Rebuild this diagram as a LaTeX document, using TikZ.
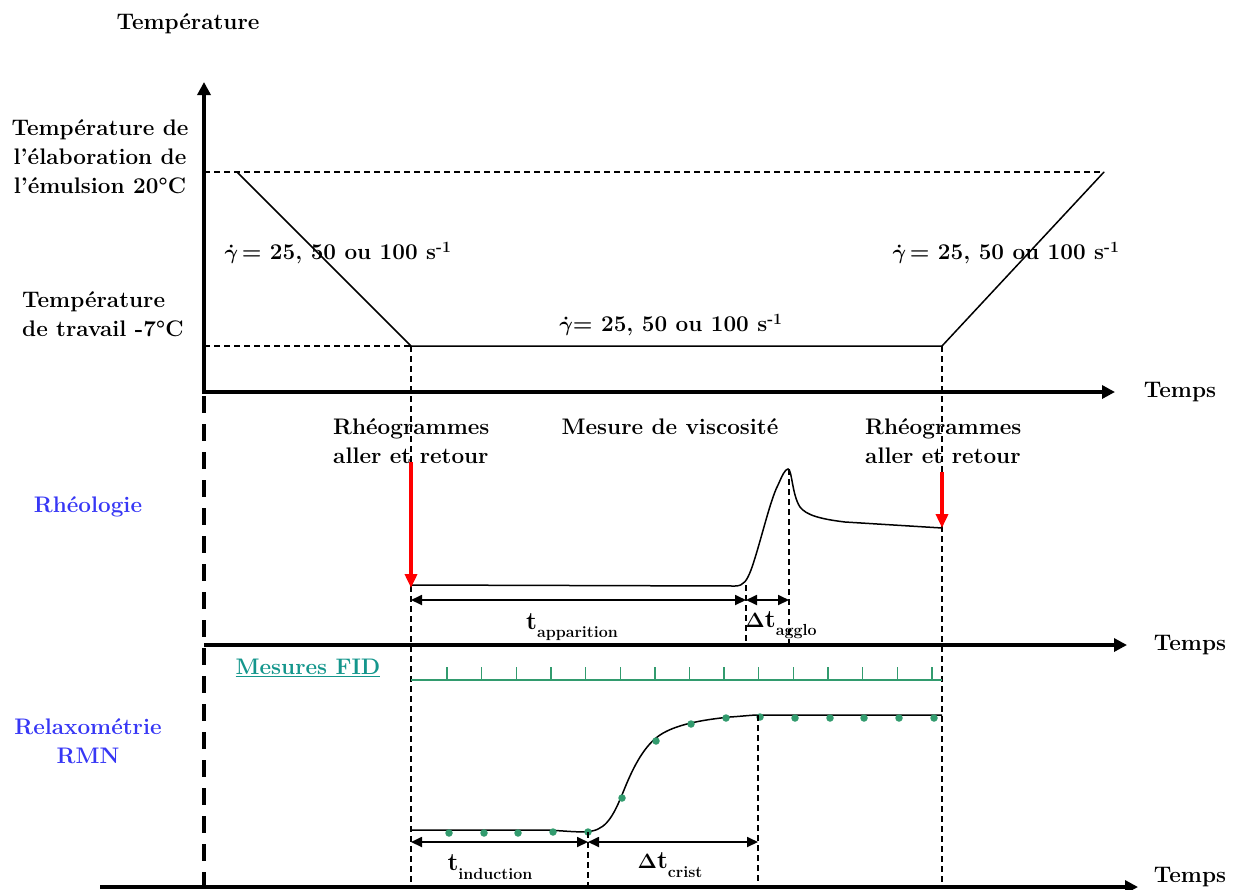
\documentclass[tikz,border=0pt]{standalone}
\usepackage{bm}
\usetikzlibrary{arrows.meta}
\definecolor{rblue}{RGB}{55,55,245}
\definecolor{fidteal}{RGB}{20,150,140}
\definecolor{fidgreen}{RGB}{50,155,110}
\newcommand{\mysub}[1]{\raisebox{-0.38em}{\fontsize{16}{16}\selectfont #1}}
\newcommand{\bigt}{{\fontsize{25}{25}\selectfont t}}
\newcommand{\gd}{$\bm{\dot{\gamma}}$}
\begin{document}
\begin{tikzpicture}[x=1pt,y=-1pt,
  every node/.style={font=\fontsize{22.5}{29}\selectfont\bfseries, inner sep=0pt},
  axisarrow/.style={line width=4pt,-{Triangle[length=13pt,width=13pt]}},
  guide/.style={line width=1.1pt, dash pattern=on 6pt off 4pt},
  curveline/.style={line width=1.5pt},
  dimarrow/.style={line width=1.8pt,{Triangle[length=11pt,width=10pt]}-{Triangle[length=11pt,width=10pt]}},
  redarrow/.style={red, line width=4pt, -{Triangle[length=14pt,width=12pt]}},
  fiddot/.style={circle, fill=fidgreen, minimum size=7.5pt, inner sep=0pt},
  bluelabel/.style={text=rblue, align=center}
]
\useasboundingbox (0,0) rectangle (1238,889);

% ---------- coordinates ----------
\coordinate (O1) at (204,392);
\coordinate (Ytop) at (204,82);
\coordinate (X1end) at (1115,392);
\coordinate (O2) at (204,645);
\coordinate (X2end) at (1127,645);
\coordinate (O3) at (100,887);
\coordinate (X3end) at (1138,887);
\coordinate (Dbot) at (204,889);
\coordinate (Thi0) at (204,172);
\coordinate (Tlo0) at (204,346);
\coordinate (P1) at (237,172);
\coordinate (P2) at (411,346);
\coordinate (P3) at (942,346);
\coordinate (P4) at (1104,172);
\coordinate (V1b) at (411,887);
\coordinate (V2b) at (942,887);
\coordinate (Ra1) at (411,462);
\coordinate (Rb1) at (411,588);
\coordinate (Ra2) at (942,472);
\coordinate (Rb2) at (942,528);
\coordinate (Ap0) at (411,600);
\coordinate (Ap1) at (746,600);
\coordinate (Ap2) at (789,600);
\coordinate (Gs) at (746,585);
\coordinate (Ge) at (746,645);
\coordinate (Pk) at (789,469);
\coordinate (Pke) at (789,648);
\coordinate (In0) at (411,842);
\coordinate (In1) at (588,842);
\coordinate (In2) at (758,842);
\coordinate (Cs) at (588,832);
\coordinate (Ce) at (588,887);
\coordinate (Ds) at (758,715);
\coordinate (De) at (758,887);
\coordinate (F0) at (411,680);
\coordinate (F1) at (942,680);

% ---------- axes ----------
\draw[line width=4pt, dash pattern=on 17pt off 11pt] (O1) ++(0,4) -- (Dbot);
\draw[axisarrow] (O1) ++(0,2) -- (Ytop);
\draw[axisarrow] (O1) ++(-2,0) -- (X1end);
\draw[axisarrow] (O2) -- (X2end);
\draw[axisarrow] (O3) -- (X3end);

% ---------- temperature profile ----------
\draw[guide] (Thi0) -- (P4);
\draw[guide] (Tlo0) -- (P2);
\draw[curveline] (P1) -- (P2) -- (P3) -- (P4);
\draw[guide] (P2) -- (V1b);
\draw[guide] (P3) -- (V2b);

% ---------- rheology ----------
\draw[curveline] (411,585) -- (735,586) .. controls (744,586) and (747,580) .. (751,570)
  .. controls (760,545) and (770,500) .. (778,485)
  .. controls (782,476) and (785,469) .. (788,469)
  .. controls (792,469) and (792,495) .. (800,507)
  .. controls (806,515) and (820,519) .. (845,522) -- (Rb2);
\draw[guide] (Gs) -- (Ge);
\draw[guide] (Pk) -- (Pke);
\draw[redarrow] (Ra1) -- (Rb1);
\draw[redarrow] (Ra2) -- (Rb2);
\draw[dimarrow] (Ap0) -- (Ap1);
\draw[dimarrow] (Ap1) -- (Ap2);

% ---------- FID ----------
\draw[fidgreen, line width=1.5pt] (F0) -- (F1);
\foreach \i in {0,...,14}{
  \draw[fidgreen, line width=1.3pt] ({447+34.64*\i},680) -- ({447+34.64*\i},667);
}

% ---------- NMR curve ----------
\draw[curveline] (411,830) -- (545,830) .. controls (570,831) and (580,833) .. (592,831)
  .. controls (608,828) and (615,812) .. (624,790)
  .. controls (634,765) and (645,745) .. (660,735)
  .. controls (675,725) and (700,720) .. (730,717)
  .. controls (745,716) and (752,715) .. (Ds) -- (942,715);
\foreach \x/\y [count=\k] in {449/833,484/833,518/833,553/832,588/832,622/798,656/741,691/724,726/718,760/717,795/718,830/718,864/718,899/718,934/718}{
  \node[fiddot] (d\k) at (\x,\y) {};
}
\draw[guide] (Cs) -- (Ce);
\draw[guide] (Ds) -- (De);
\draw[dimarrow] (In0) -- (In1);
\draw[dimarrow] (In1) -- (In2);

% ---------- texts ----------
\node (ttl) at (188,24) {Température};
\node[align=center] (tel) at (100,157) {Température de\\l’élaboration de\\l’émulsion 20\textdegree C};
\node[align=left, anchor=west] (ttr) at (22,314) {Température\\de travail -7\textdegree C};
\node (g1) at (338,253) {\gd\,= 25, 50 ou 100 s\textsuperscript{-1}};
\node (g2) at (1006,253) {\gd\,= 25, 50 ou 100 s\textsuperscript{-1}};
\node (g3) at (671,325) {\gd= 25, 50 ou 100 s\textsuperscript{-1}};
\node (tp1) at (1180,392) {Temps};
\node (tp2) at (1190,645) {Temps};
\node (tp3) at (1190,877) {Temps};
\node[align=left, anchor=west] (rg1) at (333,441) {Rhéogrammes\\aller et retour};
\node[align=left, anchor=west] (rg2) at (865,441) {Rhéogrammes\\aller et retour};
\node (mv) at (670,427) {Mesure de viscosité};
\node[bluelabel] (rheo) at (88,507) {Rhéologie};
\node[bluelabel] (rmn) at (88,741) {Relaxométrie\\RMN};
\node[text=fidteal] (fid) at (308,668) {\underline{Mesures FID}};
\node (tap) at (572,627) {\bigt\mysub{apparition}};
\node (tag) at (781,625) {$\bm{\Delta}$\bigt\mysub{agglo}};
\node (tin) at (490,867) {\bigt\mysub{induction}};
\node (tcr) at (670,865) {$\bm{\Delta}$\bigt\mysub{crist}};
\end{tikzpicture}
\end{document}
